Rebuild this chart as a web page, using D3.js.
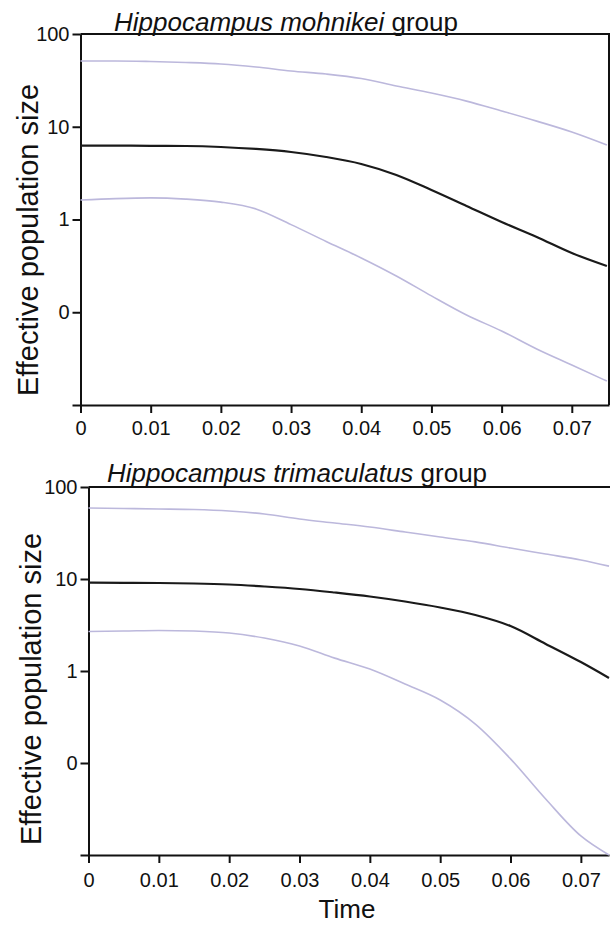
<!DOCTYPE html>
<html>
<head>
<meta charset="utf-8">
<script src="https://cdn.jsdelivr.net/npm/d3@7"></script>
<style>
  body { margin: 0; background: #fff; }
  svg { display: block; font-family: "Liberation Sans", Arial, sans-serif; }
  .axis path, .axis line { stroke: #111; stroke-width: 2; }
  .axis text { font-size: 20px; fill: #111; font-family: "Liberation Sans", Arial, sans-serif; }
</style>
</head>
<body>
<div id="chart"></div>
<script>
// Time points (x) for each panel
const timesMoh = [0, 0.005, 0.01, 0.015, 0.02, 0.025, 0.03, 0.035, 0.04, 0.045, 0.05, 0.055, 0.06, 0.065, 0.07, 0.075];
const timesTri = [0, 0.005, 0.01, 0.015, 0.02, 0.025, 0.03, 0.035, 0.04, 0.045, 0.05, 0.055, 0.06, 0.065, 0.07, 0.074];

// Hippocampus mohnikei group: upper HPD, median, lower HPD
const mohUpper  = [51.2, 51.2, 50.5, 49.3, 47.5, 44.1, 39.9, 37.0, 33.1, 27.5, 23.1, 18.9, 14.8, 11.5, 8.78, 6.36];
const mohMedian = [6.25, 6.25, 6.23, 6.20, 6.05, 5.76, 5.34, 4.72, 3.97, 3.02, 2.08, 1.40, 0.94, 0.648, 0.435, 0.315];
const mohLower  = [1.62, 1.68, 1.71, 1.66, 1.54, 1.30, 0.88, 0.58, 0.385, 0.246, 0.150, 0.0934, 0.0628, 0.0402, 0.0270, 0.0181];

// Hippocampus trimaculatus group
const triUpper  = [59.1, 58.4, 57.7, 56.9, 54.8, 50.9, 44.9, 40.6, 36.7, 32.4, 28.6, 25.3, 21.7, 18.7, 16.1, 13.8];
const triMedian = [9.12, 9.09, 9.05, 8.94, 8.71, 8.29, 7.79, 7.13, 6.45, 5.69, 4.90, 4.06, 3.08, 1.97, 1.25, 0.839];
const triLower  = [2.69, 2.72, 2.76, 2.72, 2.59, 2.28, 1.87, 1.38, 1.05, 0.722, 0.484, 0.265, 0.111, 0.0406, 0.0161, 0.0100];

// Axis ticks
const xTickValues = [0, 0.01, 0.02, 0.03, 0.04, 0.05, 0.06, 0.07];
const xTickLabels = ['0', '0.01', '0.02', '0.03', '0.04', '0.05', '0.06', '0.07'];
const yTickValues = [100, 10, 1, 0.1, 0.01];
const yTickLabels = ['100', '10', '1', '0', ''];

const width = 610, height = 925;
const svg = d3.select('#chart').append('svg')
    .attr('width', width)
    .attr('height', height);

function drawPanel(p) {
    const x = d3.scaleLinear().domain([0, p.xMax]).range([p.left, p.right]);
    const y = d3.scaleLog().domain([0.01, 100]).range([p.bottom, p.top]);

    const g = svg.append('g');

    // frame lines (top, optionally right)
    g.append('line')
        .attr('x1', p.left).attr('x2', p.right + 1)
        .attr('y1', p.top).attr('y2', p.top)
        .attr('stroke', '#111').attr('stroke-width', 2);
    if (p.rightBorder) {
        g.append('line')
            .attr('x1', p.right).attr('x2', p.right)
            .attr('y1', p.top).attr('y2', p.bottom)
            .attr('stroke', '#111').attr('stroke-width', 2);
    }

    // axes
    g.append('g')
        .attr('class', 'axis')
        .attr('transform', `translate(0,${p.bottom})`)
        .call(d3.axisBottom(x)
            .tickValues(xTickValues)
            .tickFormat((d, i) => xTickLabels[i])
            .tickSize(8).tickSizeOuter(0).tickPadding(p.xPad));

    g.append('g')
        .attr('class', 'axis')
        .attr('transform', `translate(${p.left},0)`)
        .call(d3.axisLeft(y)
            .tickValues(yTickValues)
            .tickFormat((d, i) => yTickLabels[i])
            .tickSize(8).tickSizeOuter(0).tickPadding(3));

    // lines
    const line = d3.line()
        .x(d => x(d[0]))
        .y(d => y(d[1]))
        .curve(d3.curveMonotoneX);

    const series = [
        {vals: p.upper, color: '#bcb8dc', w: 1.6},
        {vals: p.lower, color: '#bcb8dc', w: 1.6},
        {vals: p.median, color: '#1a1a1a', w: 2.2}
    ];
    series.forEach(s => {
        g.append('path')
            .datum(p.times.map((t, i) => [t, s.vals[i]]))
            .attr('fill', 'none')
            .attr('stroke', s.color)
            .attr('stroke-width', s.w)
            .attr('d', line);
    });

    // title
    const title = g.append('text')
        .attr('x', p.titleX)
        .attr('y', p.titleY)
        .attr('font-size', 26)
        .attr('fill', '#111');
    title.append('tspan').attr('font-style', 'italic').text(p.species);
    title.append('tspan').text(' group');

    // y label
    g.append('text')
        .attr('transform', `translate(${p.yLabelX},${p.yLabelY}) rotate(-90)`)
        .attr('text-anchor', 'middle')
        .attr('font-size', 29)
        .attr('fill', '#111')
        .text('Effective population size');
}

drawPanel({
    species: 'Hippocampus mohnikei',
    times: timesMoh, upper: mohUpper, median: mohMedian, lower: mohLower,
    left: 80.5, right: 609, top: 34, bottom: 405, xMax: 0.0753,
    rightBorder: true, xPad: 8,
    titleX: 114, titleY: 31, yLabelX: 38, yLabelY: 240
});

drawPanel({
    species: 'Hippocampus trimaculatus',
    times: timesTri, upper: triUpper, median: triMedian, lower: triLower,
    left: 88.5, right: 609, top: 487, bottom: 855, xMax: 0.074,
    rightBorder: false, xPad: 10,
    titleX: 107, titleY: 482, yLabelX: 41, yLabelY: 689
});

// x axis title
svg.append('text')
    .attr('x', 347)
    .attr('y', 918)
    .attr('text-anchor', 'middle')
    .attr('font-size', 26)
    .attr('fill', '#111')
    .text('Time');
</script>
</body>
</html>
